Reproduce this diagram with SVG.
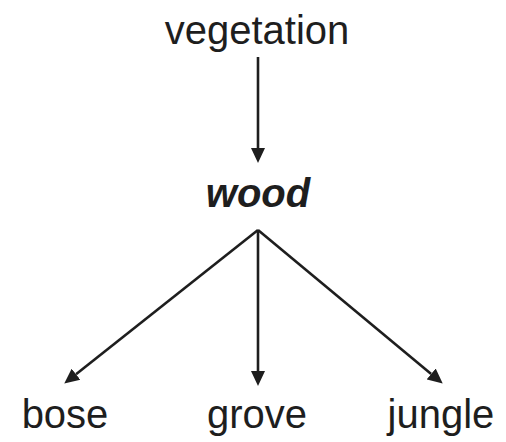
<svg xmlns="http://www.w3.org/2000/svg" width="506" height="442" viewBox="0 0 506 442">
<style>
text{font-family:"Liberation Sans",Arial,sans-serif;font-size:40px;fill:#1e1e1e;text-anchor:middle}
.b{font-weight:bold;font-style:italic}
.c line{stroke:#1e1e1e;stroke-width:2.6;fill:none}
</style>
<defs>
<marker id="ah" markerUnits="userSpaceOnUse" markerWidth="16" markerHeight="16" viewBox="0 -8 16 16" refX="0" refY="0" orient="auto">
<path d="M0,-7 L15,0 L0,7 Z" fill="#1e1e1e"/>
</marker>
</defs>
<rect width="506" height="442" fill="#fff"/>
<g class="c" id="connectors">
<line x1="258" y1="57" x2="258" y2="148" marker-end="url(#ah)"/>
<line x1="258" y1="230" x2="76" y2="374.3" marker-end="url(#ah)"/>
<line x1="258" y1="230" x2="258" y2="371" marker-end="url(#ah)"/>
<line x1="258" y1="230" x2="431.2" y2="374" marker-end="url(#ah)"/>
</g>
<g id="vegetation"><text x="257" y="44">vegetation</text></g>
<g id="wood"><text class="b" x="258" y="207">wood</text></g>
<g id="bose"><text x="65" y="428">bose</text></g>
<g id="grove"><text x="257" y="428">grove</text></g>
<g id="jungle"><text x="441" y="428">jungle</text></g>
</svg>
